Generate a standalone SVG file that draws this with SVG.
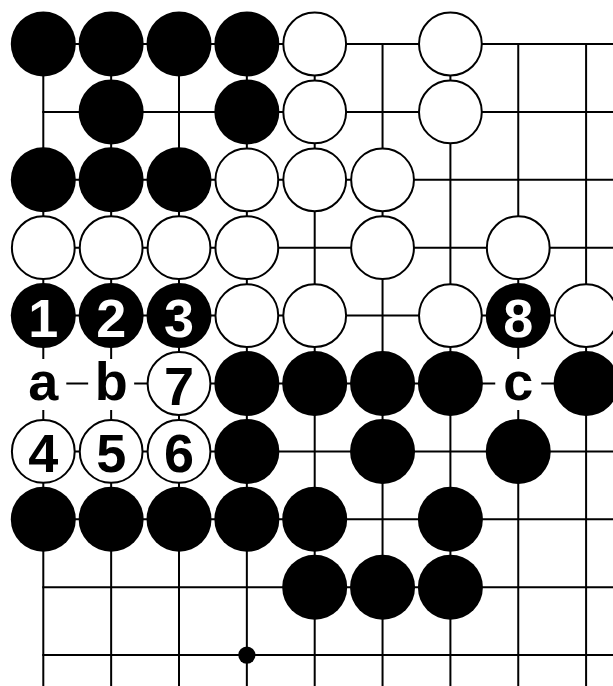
<svg xmlns="http://www.w3.org/2000/svg" width="613" height="686" viewBox="0 0 613 686">
<style>
.g{stroke:#000;stroke-width:2;stroke-linecap:square;fill:none}
.b{fill:#000}
.w{fill:#fff;stroke:#000;stroke-width:2}
.t{font-family:"Liberation Sans",Arial,sans-serif;font-weight:bold;font-size:54px;text-anchor:middle}
.tw{fill:#fff}
.tb{fill:#000}
.bg{fill:#fff}
</style>
<rect width="613" height="686" fill="#fff"/>
<g id="grid" class="g">
<path d="M43.3 44V686M111.15 44V686M179 44V686M246.85 44V686M314.7 44V686M382.55 44V686M450.4 44V686M518.25 44V686M586.1 44V686"/>
<path d="M43.3 44H613M43.3 111.9H613M43.3 179.8H613M43.3 247.7H613M43.3 315.6H613M43.3 383.5H613M43.3 451.4H613M43.3 519.3H613M43.3 587.2H613M43.3 655.1H613"/>
</g>
<g id="hoshi"><circle class="b" cx="246.85" cy="655.1" r="8.6"/></g>
<!-- row 0 -->
<g id="s-0-0"><circle class="b" cx="43.3" cy="44" r="32.5"/></g>
<g id="s-1-0"><circle class="b" cx="111.15" cy="44" r="32.5"/></g>
<g id="s-2-0"><circle class="b" cx="179" cy="44" r="32.5"/></g>
<g id="s-3-0"><circle class="b" cx="246.85" cy="44" r="32.5"/></g>
<g id="s-4-0"><circle class="w" cx="314.7" cy="44" r="31.4"/></g>
<g id="s-6-0"><circle class="w" cx="450.4" cy="44" r="31.4"/></g>
<!-- row 1 -->
<g id="s-1-1"><circle class="b" cx="111.15" cy="111.9" r="32.5"/></g>
<g id="s-3-1"><circle class="b" cx="246.85" cy="111.9" r="32.5"/></g>
<g id="s-4-1"><circle class="w" cx="314.7" cy="111.9" r="31.4"/></g>
<g id="s-6-1"><circle class="w" cx="450.4" cy="111.9" r="31.4"/></g>
<!-- row 2 -->
<g id="s-0-2"><circle class="b" cx="43.3" cy="179.8" r="32.5"/></g>
<g id="s-1-2"><circle class="b" cx="111.15" cy="179.8" r="32.5"/></g>
<g id="s-2-2"><circle class="b" cx="179" cy="179.8" r="32.5"/></g>
<g id="s-3-2"><circle class="w" cx="246.85" cy="179.8" r="31.4"/></g>
<g id="s-4-2"><circle class="w" cx="314.7" cy="179.8" r="31.4"/></g>
<g id="s-5-2"><circle class="w" cx="382.55" cy="179.8" r="31.4"/></g>
<!-- row 3 -->
<g id="s-0-3"><circle class="w" cx="43.3" cy="247.7" r="31.4"/></g>
<g id="s-1-3"><circle class="w" cx="111.15" cy="247.7" r="31.4"/></g>
<g id="s-2-3"><circle class="w" cx="179" cy="247.7" r="31.4"/></g>
<g id="s-3-3"><circle class="w" cx="246.85" cy="247.7" r="31.4"/></g>
<g id="s-5-3"><circle class="w" cx="382.55" cy="247.7" r="31.4"/></g>
<g id="s-7-3"><circle class="w" cx="518.25" cy="247.7" r="31.4"/></g>
<!-- row 4 -->
<g id="m1"><circle class="b" cx="43.3" cy="315.6" r="32.5"/><text class="t tw" x="43.3" y="336.6">1</text></g>
<g id="m2"><circle class="b" cx="111.15" cy="315.6" r="32.5"/><text class="t tw" x="111.15" y="336.6">2</text></g>
<g id="m3"><circle class="b" cx="179" cy="315.6" r="32.5"/><text class="t tw" x="179" y="336.6">3</text></g>
<g id="s-3-4"><circle class="w" cx="246.85" cy="315.6" r="31.4"/></g>
<g id="s-4-4"><circle class="w" cx="314.7" cy="315.6" r="31.4"/></g>
<g id="s-6-4"><circle class="w" cx="450.4" cy="315.6" r="31.4"/></g>
<g id="m8"><circle class="b" cx="518.25" cy="315.6" r="32.5"/><text class="t tw" x="518.25" y="336.6">8</text></g>
<g id="s-8-4"><circle class="w" cx="586.1" cy="315.6" r="31.4"/></g>
<!-- row 5 -->
<g id="la"><rect class="bg" x="20.3" y="359" width="46" height="51"/><text class="t tb" x="43.3" y="400">a</text></g>
<g id="lb"><rect class="bg" x="88.15" y="359" width="46" height="51"/><text class="t tb" x="111.15" y="400">b</text></g>
<g id="m7"><circle class="w" cx="179" cy="383.5" r="31.4"/><text class="t tb" x="179" y="404.5">7</text></g>
<g id="s-3-5"><circle class="b" cx="246.85" cy="383.5" r="32.5"/></g>
<g id="s-4-5"><circle class="b" cx="314.7" cy="383.5" r="32.5"/></g>
<g id="s-5-5"><circle class="b" cx="382.55" cy="383.5" r="32.5"/></g>
<g id="s-6-5"><circle class="b" cx="450.4" cy="383.5" r="32.5"/></g>
<g id="lc"><rect class="bg" x="495.25" y="359" width="46" height="51"/><text class="t tb" x="518.25" y="400">c</text></g>
<g id="s-8-5"><circle class="b" cx="586.1" cy="383.5" r="32.5"/></g>
<!-- row 6 -->
<g id="m4"><circle class="w" cx="43.3" cy="451.4" r="31.4"/><text class="t tb" x="43.3" y="472.4">4</text></g>
<g id="m5"><circle class="w" cx="111.15" cy="451.4" r="31.4"/><text class="t tb" x="111.15" y="472.4">5</text></g>
<g id="m6"><circle class="w" cx="179" cy="451.4" r="31.4"/><text class="t tb" x="179" y="472.4">6</text></g>
<g id="s-3-6"><circle class="b" cx="246.85" cy="451.4" r="32.5"/></g>
<g id="s-5-6"><circle class="b" cx="382.55" cy="451.4" r="32.5"/></g>
<g id="s-7-6"><circle class="b" cx="518.25" cy="451.4" r="32.5"/></g>
<!-- row 7 -->
<g id="s-0-7"><circle class="b" cx="43.3" cy="519.3" r="32.5"/></g>
<g id="s-1-7"><circle class="b" cx="111.15" cy="519.3" r="32.5"/></g>
<g id="s-2-7"><circle class="b" cx="179" cy="519.3" r="32.5"/></g>
<g id="s-3-7"><circle class="b" cx="246.85" cy="519.3" r="32.5"/></g>
<g id="s-4-7"><circle class="b" cx="314.7" cy="519.3" r="32.5"/></g>
<g id="s-6-7"><circle class="b" cx="450.4" cy="519.3" r="32.5"/></g>
<!-- row 8 -->
<g id="s-4-8"><circle class="b" cx="314.7" cy="587.2" r="32.5"/></g>
<g id="s-5-8"><circle class="b" cx="382.55" cy="587.2" r="32.5"/></g>
<g id="s-6-8"><circle class="b" cx="450.4" cy="587.2" r="32.5"/></g>
</svg>
